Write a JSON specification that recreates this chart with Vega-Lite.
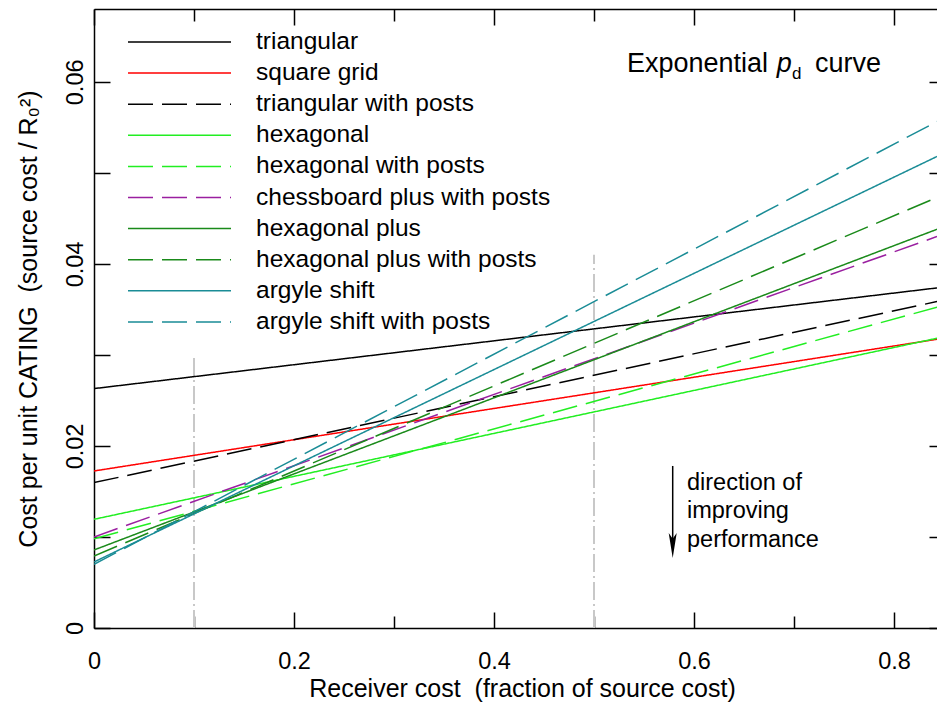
{
  "$schema": "https://vega.github.io/schema/vega-lite/v6.json",
  "width": 843,
  "height": 619,
  "autosize": {"type": "none"},
  "padding": {"left": 94, "top": 9, "right": 0, "bottom": 74},
  "background": "white",
  "config": {
    "view": {"stroke": null},
    "font": "Liberation Sans",
    "axis": {"domainColor": "black", "domainWidth": 1.5, "tickColor": "black", "tickWidth": 1.5, "labelColor": "black", "titleColor": "black", "grid": false, "titleFontWeight": "normal", "labelFont": "Liberation Sans", "titleFont": "Liberation Sans"},
    "legend": {"labelFont": "Liberation Sans"},
    "text": {"font": "Liberation Sans"}
  },
  "layer": [
    {
      "data": {"values": [
        {"receiver_cost": 0.1, "cost": 0, "cost_top": 0.02966},
        {"receiver_cost": 0.5, "cost": 0, "cost_top": 0.041}
      ]},
      "mark": {"type": "rule", "color": "#c8c8c8", "strokeWidth": 2, "strokeDash": [18, 4, 2, 4]},
      "encoding": {
        "x": {"field": "receiver_cost", "type": "quantitative", "scale": {"domain": [0, 0.843], "nice": false, "zero": false},
          "axis": {"orient": "top", "values": [0, 0.1, 0.2, 0.3, 0.4, 0.5, 0.6, 0.7, 0.8], "labels": false, "title": null,
            "tickSize": {"condition": {"test": "round(datum.value*10)%2==0", "value": -16}, "value": -12}}},
        "y": {"field": "cost", "type": "quantitative", "scale": {"domain": [0, 0.068], "nice": false},
          "axis": {"orient": "right", "values": [0, 0.01, 0.02, 0.03, 0.04, 0.05, 0.06], "labels": false, "title": null, "domain": false, "tickSize": -8}},
        "y2": {"field": "cost_top"}
      }
    },
    {
      "data": {"values": [
        {"series": "triangular", "receiver_cost": 0, "cost": 0.0263},
        {"series": "triangular", "receiver_cost": 0.843, "cost": 0.03736},
        {"series": "square grid", "receiver_cost": 0, "cost": 0.01725},
        {"series": "square grid", "receiver_cost": 0.843, "cost": 0.03172},
        {"series": "triangular with posts", "receiver_cost": 0, "cost": 0.01597},
        {"series": "triangular with posts", "receiver_cost": 0.843, "cost": 0.03586},
        {"series": "hexagonal", "receiver_cost": 0, "cost": 0.01194},
        {"series": "hexagonal", "receiver_cost": 0.843, "cost": 0.03183},
        {"series": "hexagonal with posts", "receiver_cost": 0, "cost": 0.0098},
        {"series": "hexagonal with posts", "receiver_cost": 0.843, "cost": 0.03524},
        {"series": "chessboard plus with posts", "receiver_cost": 0, "cost": 0.0100},
        {"series": "chessboard plus with posts", "receiver_cost": 0.843, "cost": 0.0430},
        {"series": "hexagonal plus", "receiver_cost": 0, "cost": 0.00857},
        {"series": "hexagonal plus", "receiver_cost": 0.843, "cost": 0.0438},
        {"series": "hexagonal plus with posts", "receiver_cost": 0, "cost": 0.0079},
        {"series": "hexagonal plus with posts", "receiver_cost": 0.843, "cost": 0.0473},
        {"series": "argyle shift", "receiver_cost": 0, "cost": 0.00725},
        {"series": "argyle shift", "receiver_cost": 0.843, "cost": 0.0518},
        {"series": "argyle shift with posts", "receiver_cost": 0, "cost": 0.0070},
        {"series": "argyle shift with posts", "receiver_cost": 0.843, "cost": 0.05564}
      ]},
      "mark": {"type": "line", "strokeWidth": 1.5, "clip": true},
      "encoding": {
        "x": {"field": "receiver_cost", "type": "quantitative",
          "axis": {"orient": "bottom", "values": [0, 0.1, 0.2, 0.3, 0.4, 0.5, 0.6, 0.7, 0.8], "format": "~g",
            "labelExpr": "round(datum.value*10)%2==0 ? datum.label : ''", "labelFontSize": 23.5, "labelPadding": 37,
            "labelFlush": false, "labelOverlap": false,
            "tickSize": {"condition": {"test": "round(datum.value*10)%2==0", "value": -16}, "value": -12},
            "title": "Receiver cost\u00a0 (fraction of source cost)", "titleFontSize": 25, "titlePadding": 0,
            "titleX": 428, "titleAlign": "center"}},
        "y": {"field": "cost", "type": "quantitative",
          "axis": {"orient": "left", "values": [0, 0.01, 0.02, 0.03, 0.04, 0.05, 0.06], "format": "~g",
            "labelExpr": "round(datum.value*100)%2==0 ? datum.label : ''", "labelAngle": 270, "labelAlign": "center",
            "labelBaseline": "middle", "labelFontSize": 23.5, "labelPadding": 35, "labelOverlap": false, "labelFlush": false,
            "tickSize": -16, "title": "Cost per unit CATING\u00a0 (source cost / R₀²)", "titleFontSize": 25, "titlePadding": 22}},
        "color": {"field": "series", "type": "nominal",
          "scale": {"domain": ["triangular", "square grid", "triangular with posts", "hexagonal", "hexagonal with posts", "chessboard plus with posts", "hexagonal plus", "hexagonal plus with posts", "argyle shift", "argyle shift with posts"],
            "range": ["#000000", "#ff0000", "#000000", "#22ee22", "#22ee22", "#9a1fa0", "#1a8a1a", "#1a8a1a", "#1a8c96", "#1a8c96"]},
          "legend": {"title": null, "orient": "none", "legendX": 33, "legendY": 21, "symbolType": "stroke", "symbolSize": 10609,
            "symbolStrokeWidth": 1.5, "clipHeight": 24, "rowPadding": 6.1, "labelFontSize": 24.5, "labelOffset": 24, "labelLimit": 400,
            "padding": 0, "labelColor": "black"}},
        "strokeDash": {"field": "series", "type": "nominal",
          "scale": {"domain": ["triangular", "square grid", "triangular with posts", "hexagonal", "hexagonal with posts", "chessboard plus with posts", "hexagonal plus", "hexagonal plus with posts", "argyle shift", "argyle shift with posts"],
            "range": [[1, 0], [1, 0], [25, 9], [1, 0], [25, 9], [25, 9], [1, 0], [25, 9], [1, 0], [25, 9]]}}
      }
    },
    {
      "data": {"values": [{"receiver_cost": 0.674, "cost": 0.06111, "label": "Exponential"}]},
      "mark": {"type": "text", "align": "right", "baseline": "alphabetic", "fontSize": 27, "color": "black"},
      "encoding": {
        "x": {"field": "receiver_cost", "type": "quantitative", "axis": null},
        "y": {"field": "cost", "type": "quantitative", "axis": null},
        "text": {"field": "label"}
      }
    },
    {
      "data": {"values": [{"receiver_cost": 0.6827, "cost": 0.06111, "label": "p"}]},
      "mark": {"type": "text", "align": "left", "baseline": "alphabetic", "fontSize": 27, "fontStyle": "italic", "color": "black"},
      "encoding": {
        "x": {"field": "receiver_cost", "type": "quantitative", "axis": null},
        "y": {"field": "cost", "type": "quantitative", "axis": null},
        "text": {"field": "label"}
      }
    },
    {
      "data": {"values": [{"receiver_cost": 0.698, "cost": 0.06031, "label": "d"}]},
      "mark": {"type": "text", "align": "left", "baseline": "alphabetic", "fontSize": 17, "color": "black"},
      "encoding": {
        "x": {"field": "receiver_cost", "type": "quantitative", "axis": null},
        "y": {"field": "cost", "type": "quantitative", "axis": null},
        "text": {"field": "label"}
      }
    },
    {
      "data": {"values": [{"receiver_cost": 0.721, "cost": 0.06111, "label": "curve"}]},
      "mark": {"type": "text", "align": "left", "baseline": "alphabetic", "fontSize": 27, "color": "black"},
      "encoding": {
        "x": {"field": "receiver_cost", "type": "quantitative", "axis": null},
        "y": {"field": "cost", "type": "quantitative", "axis": null},
        "text": {"field": "label"}
      }
    },
    {
      "data": {"values": [
        {"receiver_cost": 0.593, "cost": 0.01516, "label": "direction of"},
        {"receiver_cost": 0.593, "cost": 0.01203, "label": "improving"},
        {"receiver_cost": 0.593, "cost": 0.00886, "label": "performance"}
      ]},
      "mark": {"type": "text", "align": "left", "baseline": "alphabetic", "fontSize": 23.5, "color": "black"},
      "encoding": {
        "x": {"field": "receiver_cost", "type": "quantitative", "axis": null},
        "y": {"field": "cost", "type": "quantitative", "axis": null},
        "text": {"field": "label"}
      }
    },
    {
      "data": {"values": [{"receiver_cost": 0.5787, "cost": 0.0178, "cost_end": 0.0097}]},
      "mark": {"type": "rule", "color": "black", "strokeWidth": 1.5},
      "encoding": {
        "x": {"field": "receiver_cost", "type": "quantitative", "axis": null},
        "y": {"field": "cost", "type": "quantitative", "axis": null},
        "y2": {"field": "cost_end"}
      }
    },
    {
      "data": {"values": [{"receiver_cost": 0.5787, "cost": 0.00906}]},
      "mark": {"type": "point", "shape": "M-0.32,-1L0,-0.55L0.32,-1L0,1Z", "size": 625, "filled": true, "color": "black", "opacity": 1},
      "encoding": {
        "x": {"field": "receiver_cost", "type": "quantitative", "axis": null},
        "y": {"field": "cost", "type": "quantitative", "axis": null}
      }
    }
  ],
  "resolve": {"axis": {"x": "independent", "y": "independent"}}
}
